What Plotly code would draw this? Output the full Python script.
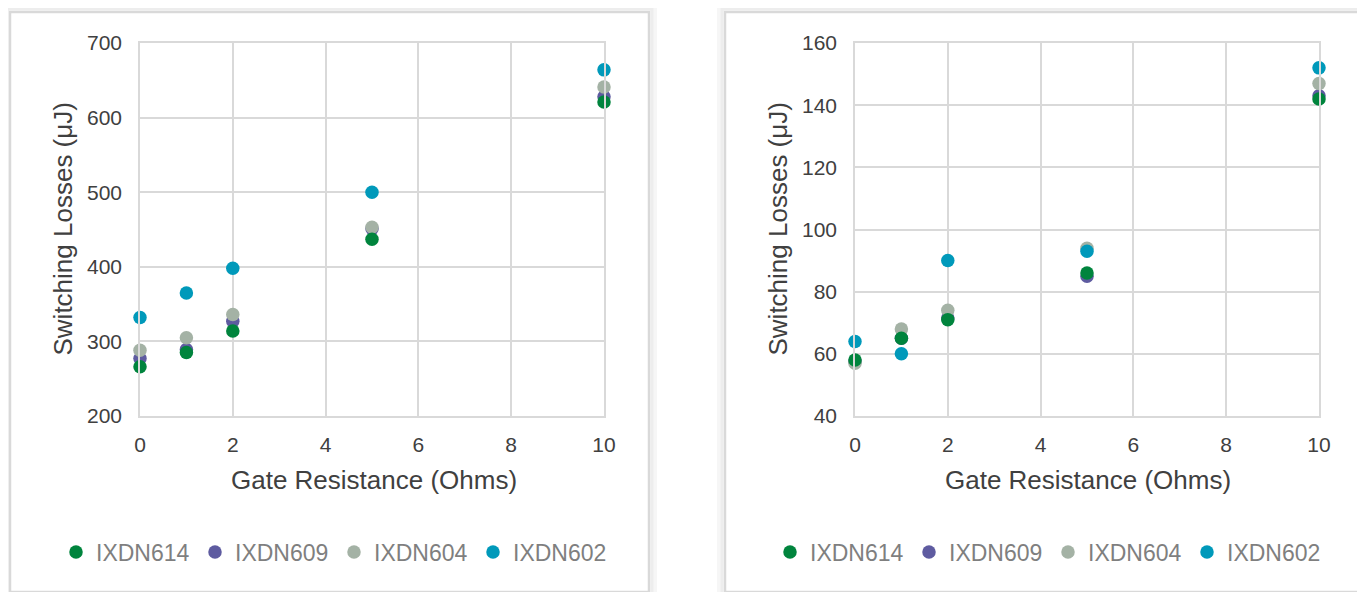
import plotly.graph_objects as go

W, H = 1365, 592
OFF = 8  # page body margin of the html page

# ---- data ----
gate_resistance = [0, 1, 2, 5, 10]
series_names = ["IXDN614", "IXDN609", "IXDN604", "IXDN602"]
series_colors = ["#00843D", "#5E5BA0", "#A4B2A5", "#0099BA"]

left_IXDN614 = [266, 285, 314, 437, 621]
left_IXDN609 = [277, 289, 327, 451, 628]
left_IXDN604 = [288, 305, 336, 453, 641]
left_IXDN602 = [332, 365, 398, 500, 664]

right_IXDN614 = [58, 65, 71, 86, 142]
right_IXDN609 = [57.5, 65, 71.5, 85, 143]
right_IXDN604 = [57, 68, 74, 94, 147]
right_IXDN602 = [64, 60, 90, 93, 152]

left_ticks_y = [200, 300, 400, 500, 600, 700]
right_ticks_y = [40, 60, 80, 100, 120, 140, 160]
ticks_x = [0, 2, 4, 6, 8, 10]

x_title = "Gate Resistance (Ohms)"
y_title = "Switching Losses (μJ)"

FONT = "Liberation Sans"
TXT = "#404040"
GRID = "#D9D9D9"


def px_x(p):
    return (p - OFF) / W


def px_y(p):
    return 1 - (p - OFF) / H


left_data = dict(zip(series_names, [left_IXDN614, left_IXDN609, left_IXDN604, left_IXDN602]))
right_data = dict(zip(series_names, [right_IXDN614, right_IXDN609, right_IXDN604, right_IXDN602]))
color_of = dict(zip(series_names, series_colors))
rank_of = {n: i + 1 for i, n in enumerate(series_names)}
draw_order = ["IXDN609", "IXDN604", "IXDN602", "IXDN614"]

fig = go.Figure()
for data, xa, ya, leg in [(left_data, "x", "y", "legend"), (right_data, "x2", "y2", "legend2")]:
    for name in draw_order:
        fig.add_trace(go.Scatter(
            x=gate_resistance, y=data[name], mode="markers", name=name,
            marker=dict(color=color_of[name], size=13.5, line=dict(width=0)),
            xaxis=xa, yaxis=ya, legend=leg, legendrank=rank_of[name],
            showlegend=True, cliponaxis=False,
        ))

axis_common = dict(
    showgrid=True, gridcolor=GRID, gridwidth=1.6, zeroline=False,
    showline=True, linecolor=GRID, linewidth=1.6, mirror=True,
    ticks="", tickfont=dict(family=FONT, size=21, color=TXT),
)

yd = [px_y(416), px_y(43)]
legend_common = dict(orientation="h", yanchor="middle", xanchor="center", y=px_y(552),
                     font=dict(family=FONT, size=23, color="#7F7F7F"), bgcolor="rgba(0,0,0,0)",
                     entrywidth=94, entrywidthmode="pixels", itemwidth=30, traceorder="normal")
fig.update_layout(
    width=W, height=H,
    margin=dict(l=0, r=0, t=0, b=0, autoexpand=False),
    paper_bgcolor="white", plot_bgcolor="white",
    font=dict(family=FONT, color=TXT),
    xaxis=dict(domain=[px_x(140), px_x(604)], range=[0, 10], tickvals=ticks_x,
               ticklabelstandoff=9, anchor="y", **axis_common),
    yaxis=dict(domain=yd, range=[200, 700], tickvals=left_ticks_y,
               ticklabelstandoff=12, anchor="x", **axis_common),
    xaxis2=dict(domain=[px_x(855), px_x(1319)], range=[0, 10], tickvals=ticks_x,
                ticklabelstandoff=9, anchor="y2", **axis_common),
    yaxis2=dict(domain=yd, range=[40, 160], tickvals=right_ticks_y,
                ticklabelstandoff=12, anchor="x2", **axis_common),
    legend=dict(x=px_x(334), **legend_common),
    legend2=dict(x=px_x(1048), **legend_common),
    showlegend=True,
)

# axis titles
for cx_title, cy_title, cx_y in [(374, 480, 62), (1088, 480, 777)]:
    fig.add_annotation(text=x_title, x=px_x(cx_title), y=px_y(cy_title), xref="paper", yref="paper",
                       showarrow=False, xanchor="center", yanchor="middle",
                       font=dict(family=FONT, size=26, color=TXT))
    fig.add_annotation(text=y_title, x=px_x(cx_y), y=px_y(229.5), xref="paper", yref="paper",
                       showarrow=False, xanchor="center", yanchor="middle", textangle=-90,
                       font=dict(family=FONT, size=26, color=TXT))

# panel frames with soft shadow
for x0, x1 in [(11, 648), (726, 1361)]:
    for off, col, wd in [(7, "#F6F6F6", 4), (4, "#EDEDED", 3), (1, "#D9D9D9", 2.5)]:
        fig.add_shape(type="rect", xref="paper", yref="paper",
                      x0=px_x(x0 - off), x1=px_x(x1 + off), y0=px_y(591 + off), y1=px_y(13 - off),
                      line=dict(color=col, width=wd), fillcolor="rgba(0,0,0,0)", layer="below")

fig.write_html("out.html")
